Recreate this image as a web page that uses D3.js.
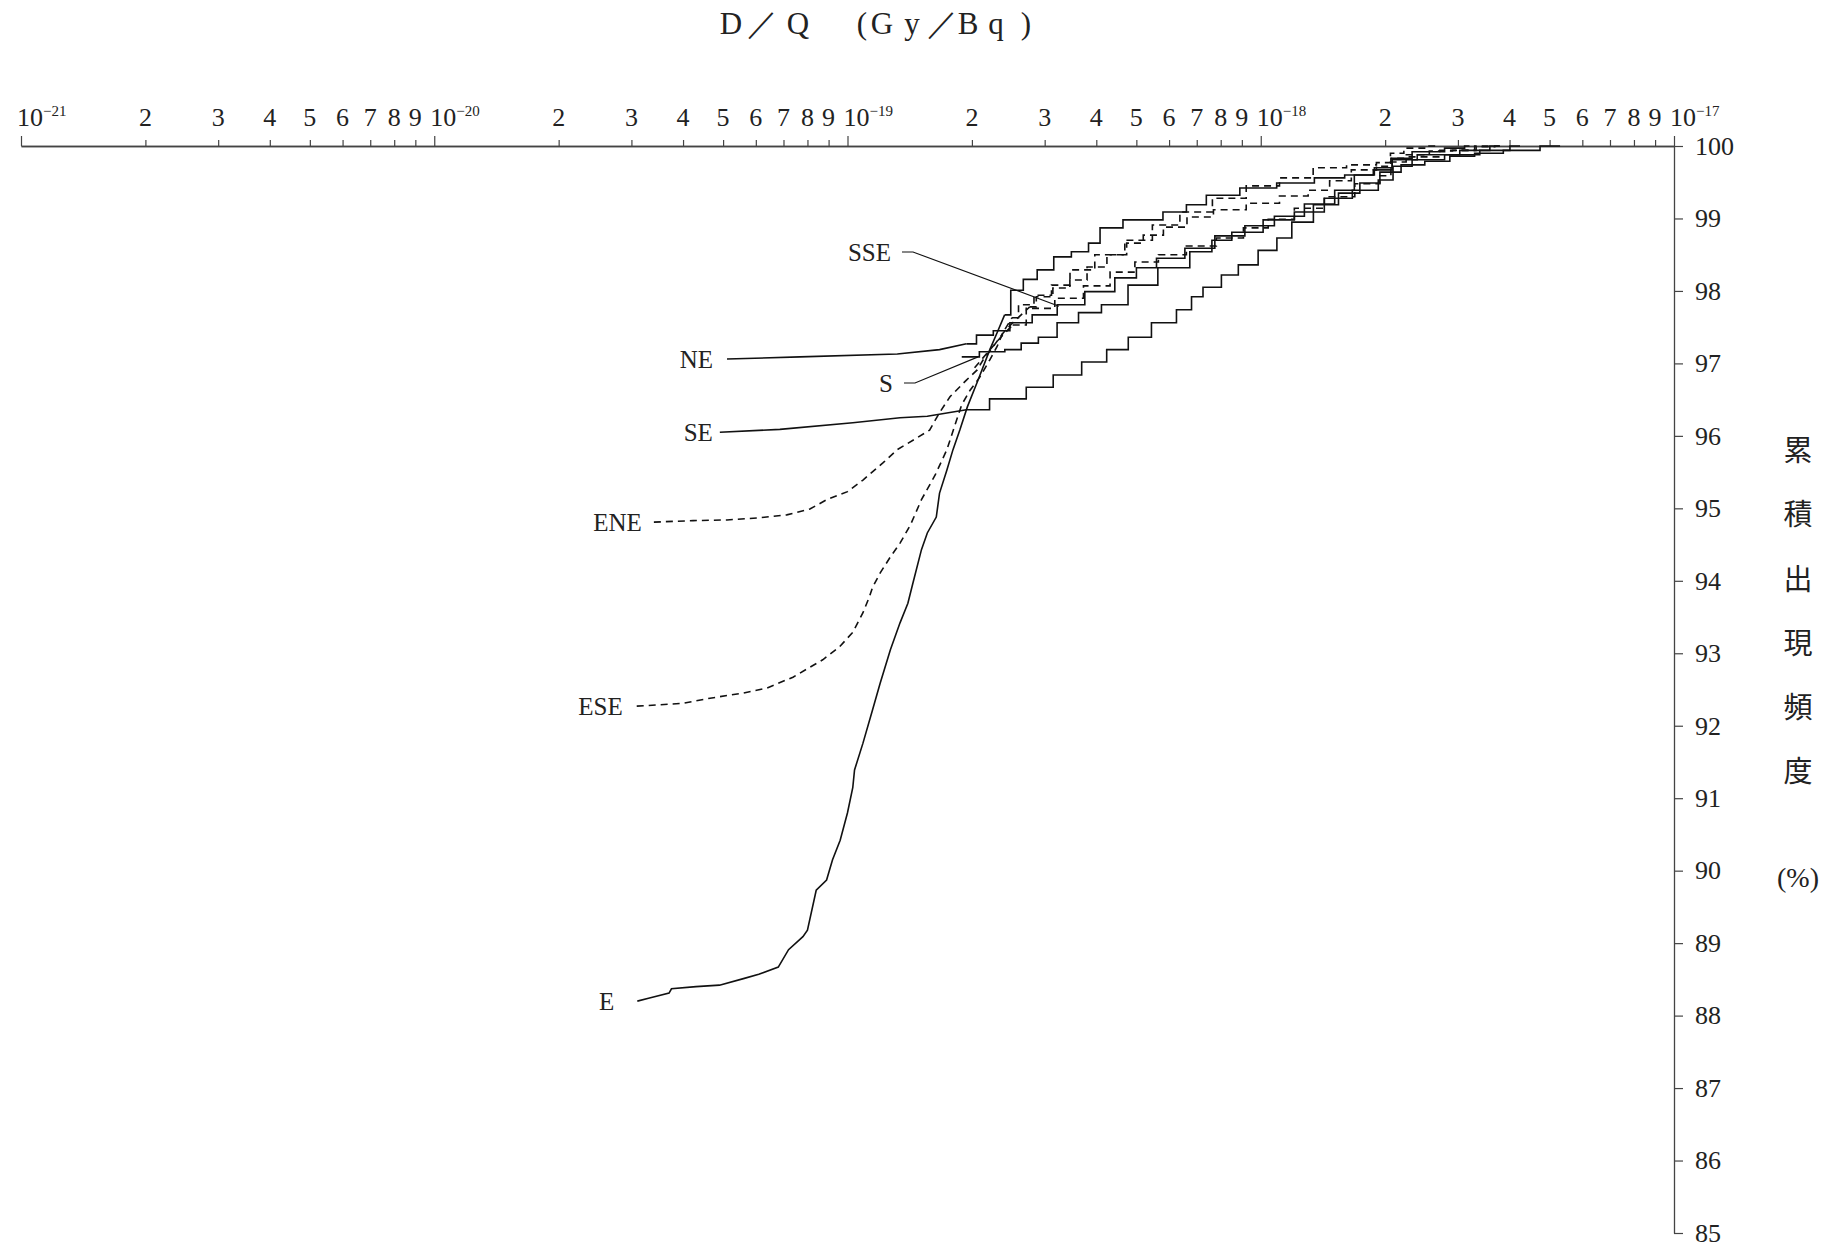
<!DOCTYPE html>
<html>
<head>
<meta charset="utf-8">
<script src="https://cdn.jsdelivr.net/npm/d3@7"></script>
<style>
body{margin:0;background:#fff;}
svg text{font-family:"Liberation Serif","DejaVu Serif",serif;fill:#222;}
</style>
</head>
<body>
<div id="chart"></div>
<script>
/* Cumulative frequency of D/Q by wind direction
   x: D/Q (Gy/Bq) on a log scale, y: cumulative frequency (%) */

// ---- data ----
var eDose = [3.1e-20,3.3e-20,3.7e-20,3.75e-20,4.3e-20,4.9e-20,5.6e-20,6.1e-20,6.8e-20,7.2e-20,7.8e-20,8.0e-20,8.4e-20,8.9e-20,9.2e-20,9.6e-20,
  1.0e-19,1.03e-19,1.04e-19,1.09e-19,1.15e-19,1.20e-19,1.27e-19,1.34e-19,1.40e-19,1.44e-19,1.51e-19,1.56e-19,1.64e-19,1.67e-19,1.74e-19,1.80e-19,
  1.87e-19,1.95e-19,2.07e-19,2.21e-19,2.30e-19,2.40e-19,2.57e-19,2.76e-19,3.00e-19,3.32e-19,3.65e-19,4.02e-19,4.15e-19,5.19e-19,6.48e-19,6.74e-19,
  8.09e-19,9.79e-19,1.22e-18,1.49e-18,1.71e-18,2.05e-18,2.11e-18,2.71e-18,3.39e-18,3.79e-18];
var ePct = [88.20,88.24,88.31,88.37,88.40,88.42,88.51,88.57,88.67,88.91,89.09,89.18,89.73,89.87,90.15,90.42,
  90.80,91.15,91.39,91.76,92.22,92.59,93.05,93.42,93.69,93.97,94.43,94.66,94.88,95.21,95.53,95.81,
  96.08,96.40,96.77,97.19,97.42,97.67,98.01,98.16,98.29,98.47,98.54,98.66,98.87,98.98,99.09,99.19,
  99.32,99.42,99.49,99.56,99.60,99.67,99.81,99.88,99.94,100];

var eseDose = [3.09e-20,3.52e-20,4.00e-20,4.65e-20,5.58e-20,6.38e-20,7.38e-20,8.71e-20,9.57e-20,1.03e-19,1.09e-19,1.13e-19,1.15e-19,1.20e-19,1.27e-19,
  1.34e-19,1.42e-19,1.51e-19,1.63e-19,1.74e-19,1.82e-19,1.89e-19,1.98e-19,2.09e-19,2.21e-19,2.30e-19,2.38e-19,2.50e-19,2.69e-19,2.97e-19,
  3.27e-19,3.65e-19,4.31e-19,5.10e-19,5.86e-19,6.93e-19,8.42e-19,1.01e-18,1.22e-18,1.47e-18,1.77e-18,2.05e-18,2.07e-18,2.38e-18,2.71e-18];
var esePct = [92.27,92.29,92.31,92.38,92.45,92.52,92.67,92.91,93.09,93.29,93.56,93.78,93.91,94.11,94.33,
  94.52,94.77,95.12,95.46,95.81,96.15,96.43,96.63,96.81,97.05,97.23,97.43,97.63,97.81,97.94,
  98.08,98.29,98.50,98.70,98.91,99.09,99.28,99.45,99.56,99.70,99.74,99.77,99.90,99.97,100];

var eneDose = [3.40e-20,4.23e-20,5.11e-20,6.14e-20,7.13e-20,8.11e-20,8.91e-20,1.0e-19,1.09e-19,1.22e-19,1.32e-19,1.47e-19,1.58e-19,1.67e-19,1.77e-19,
  1.94e-19,2.06e-19,2.13e-19,2.25e-19,2.38e-19,2.51e-19,2.76e-19,2.97e-19,3.32e-19,3.59e-19,4.02e-19,4.48e-19,5.01e-19,5.39e-19,6.27e-19,
  7.01e-19,8.42e-19,1.01e-18,1.22e-18,1.39e-18,1.55e-18,1.77e-18,2.05e-18,2.08e-18,2.38e-18,2.75e-18,3.08e-18,3.58e-18,3.79e-18];
var enePct = [94.81,94.83,94.84,94.87,94.91,94.99,95.12,95.23,95.39,95.63,95.81,95.97,96.08,96.32,96.54,
  96.77,96.91,97.05,97.23,97.42,97.56,97.78,97.92,98.04,98.15,98.33,98.50,98.66,98.77,98.88,
  99.02,99.12,99.21,99.31,99.39,99.52,99.67,99.72,99.83,99.88,99.93,99.94,99.99,100];

var seDose = [4.91e-20,6.86e-20,1.03e-19,1.34e-19,1.56e-19,1.94e-19,2.51e-19,2.92e-19,3.39e-19,4.01e-19,4.48e-19,5.10e-19,5.80e-19,6.74e-19,6.86e-19,
  7.66e-19,8.42e-19,9.25e-19,1.05e-18,1.14e-18,1.24e-18,1.45e-18,1.64e-18,1.84e-18,2.05e-18,2.33e-18,2.67e-18,3.08e-18,3.52e-18,4.24e-18,5.30e-18];
var sePct = [96.05,96.09,96.18,96.25,96.27,96.36,96.51,96.67,96.84,97.02,97.19,97.36,97.56,97.74,97.92,
  98.05,98.22,98.36,98.56,98.73,98.95,99.19,99.35,99.49,99.64,99.74,99.79,99.86,99.90,99.94,100];

var neDose = [5.11e-20,7.67e-20,1.32e-19,1.67e-19,1.94e-19,2.17e-19,2.34e-19,2.61e-19,3.00e-19,3.45e-19,4.08e-19,4.82e-19,5.19e-19,6.03e-19,7.12e-19,
  8.42e-19,9.95e-19,1.17e-18,1.39e-18,1.64e-18,1.73e-18,2.05e-18,2.11e-18,2.56e-18,3.03e-18,3.20e-18];
var nePct = [97.06,97.09,97.13,97.19,97.27,97.39,97.45,97.56,97.67,97.81,97.99,98.18,98.32,98.45,98.59,
  98.76,98.90,99.03,99.20,99.39,99.60,99.70,99.83,99.92,99.97,100];

var sDose = [1.89e-19,2.30e-19,2.51e-19,2.76e-19,3.04e-19,3.40e-19,3.86e-19,4.39e-19,5.19e-19,6.12e-19,7.41e-19,7.83e-19,9.25e-19,
  1.11e-18,1.31e-18,1.55e-18,1.79e-18,2.07e-18,2.11e-18,2.56e-18,3.03e-18,3.79e-18,4.24e-18];
var sPct = [97.09,97.16,97.19,97.28,97.36,97.56,97.70,97.81,98.08,98.32,98.54,98.70,98.81,
  98.98,99.09,99.28,99.39,99.53,99.72,99.81,99.88,99.94,100];

var sseDose = [2.03e-19,2.19e-19,2.34e-19,2.51e-19,2.92e-19,3.45e-19,4.02e-19,4.64e-19,5.30e-19,6.03e-19,7.24e-19,8.42e-19,9.79e-19,
  1.11e-18,1.31e-18,1.55e-18,1.84e-18,2.05e-18,2.08e-18,2.43e-18,3.03e-18,3.58e-18];
var ssePct = [96.94,97.16,97.35,97.53,97.76,97.90,98.07,98.26,98.40,98.50,98.62,98.73,98.87,
  98.99,99.14,99.30,99.48,99.59,99.78,99.85,99.94,100];

// axis ticks
var decades = [-21,-20,-19,-18,-17];
var mantissas = [2,3,4,5,6,7,8,9];
var pctTicks = d3.range(85,101);
var yTitle = ["累","積","出","現","頻","度"];

// ---- layout ----
var margin = {top:146, right:171, bottom:18, left:21},
  w = 1845 - margin.left - margin.right,
  h = 1251 - margin.top - margin.bottom;

var svg = d3.select("#chart").append("svg")
  .attr("width",1845).attr("height",1251);
var g = svg.append("g")
  .attr("transform",`translate(${margin.left},${margin.top})`);

var x = d3.scaleLog().domain([1e-21,1e-17]).range([0,w]);
var y = d3.scaleLinear().domain([85,100]).range([h,0]);

var majorVals = decades.map(function(k){ return Math.pow(10,k); });
var minorVals = [];
decades.slice(0,-1).forEach(function(k){
  mantissas.forEach(function(m){ minorVals.push(m*Math.pow(10,k)); });
});

// top axis (minor + major ticks)
var axStyle = function(sel){
  sel.select(".domain").attr("stroke","#444").attr("stroke-width",1.3);
  sel.selectAll(".tick line").attr("stroke","#444").attr("stroke-width",1.2);
};
g.append("g")
  .call(d3.axisTop(x).tickValues(minorVals).tickSize(6).tickSizeOuter(0).tickFormat(""))
  .call(axStyle);
g.append("g")
  .call(d3.axisTop(x).tickValues(majorVals).tickSize(10).tickSizeOuter(0).tickFormat(""))
  .call(axStyle);

// top labels
g.selectAll(".minLab").data(minorVals).enter().append("text")
  .attr("class","minLab")
  .attr("x",function(d){ return x(d); })
  .attr("y",-20)
  .attr("text-anchor","middle")
  .style("font-size","26px")
  .text(function(d){ return Math.round(d/Math.pow(10,Math.floor(Math.log10(d)+1e-9))); });
var majLab = g.selectAll(".majLab").data(decades).enter().append("text")
  .attr("class","majLab")
  .attr("x",function(d){ return x(Math.pow(10,d)) - 4; })
  .attr("y",-20)
  .style("font-size","26px");
majLab.append("tspan").text("10");
majLab.append("tspan").attr("dy",-10).style("font-size","15px")
  .text(function(d){ return "\u2212" + (-d); });

// right axis
var yAxis = g.append("g")
  .attr("transform",`translate(${w},0)`)
  .call(d3.axisRight(y).tickValues(pctTicks).tickSize(9).tickPadding(12).tickSizeOuter(0).tickFormat(d3.format("d")))
  .call(axStyle);
yAxis.selectAll(".tick text")
  .style("font-size","26px")
  .style("font-family","'Liberation Serif',serif")
  .attr("fill","#222");

// ---- series ----
// stairs: % above which the curve is drawn as little stairs
var series = [
  {name:"E",   dose:eDose,   pct:ePct,   dash:false, gap:23, stairs:97.6},
  {name:"ESE", dose:eseDose, pct:esePct, dash:true,  gap:14, stairs:97.6},
  {name:"ENE", dose:eneDose, pct:enePct, dash:true,  gap:12, stairs:97.6},
  {name:"SE",  dose:seDose,  pct:sePct,  dash:false, gap:7,  stairs:96.3},
  {name:"NE",  dose:neDose,  pct:nePct,  dash:false, gap:14, stairs:97.2},
  {name:"S",   dose:sDose,   pct:sPct,   dash:false, stairs:0},
  {name:"SSE", dose:sseDose, pct:ssePct, dash:true,  stairs:97.5}
];

var lineLow = d3.line()
  .x(function(d){ return x(d[0]); })
  .y(function(d){ return y(d[1]); });
var lineHigh = d3.line()
  .x(function(d){ return x(d[0]); })
  .y(function(d){ return y(d[1]); })
  .curve(d3.curveStep);

series.forEach(function(s){
  var pts = d3.zip(s.dose,s.pct);
  var k = Math.max(pts.findIndex(function(p){ return p[1] >= s.stairs; }),0);
  var parts = [];
  if(k > 0) parts.push(lineLow(pts.slice(0,k+1)));
  parts.push(lineHigh(pts.slice(k)));
  parts.forEach(function(d){
    g.append("path")
      .attr("d",d)
      .attr("fill","none")
      .attr("stroke","#111")
      .attr("stroke-width",1.6)
      .attr("stroke-dasharray",s.dash ? "7,5" : null);
  });
});

// labels at the start of the curves
g.selectAll(".lab").data(series.filter(function(s){ return s.gap; })).enter().append("text")
  .attr("class","lab")
  .attr("x",function(s){ return x(s.dose[0]) - s.gap; })
  .attr("y",function(s){ return y(s.pct[0]); })
  .attr("dy","0.35em")
  .attr("text-anchor","end")
  .style("font-size","25px")
  .text(function(s){ return s.name; });

// labels with leader lines (pixel positions of the text, target on curve in data units)
var leaders = [
  {name:"SSE", tx:870, ty:106, target:[3.25e-19,97.79]},
  {name:"S",   tx:872, ty:237, target:[2.07e-19,97.09]}
];
leaders.forEach(function(l){
  g.append("text").attr("x",l.tx).attr("y",l.ty).attr("dy","0.35em")
    .attr("text-anchor","end").style("font-size","25px").text(l.name);
  g.append("polyline")
    .attr("points",[[l.tx+11,l.ty],[l.tx+22,l.ty],[x(l.target[0]),y(l.target[1])]].join(" "))
    .attr("fill","none").attr("stroke","#111").attr("stroke-width",1.1);
});

// ---- titles ----
var titleChars = [["D",731],["／",762],["Q",798],["(",862],["G",882],["y",912],["／",942],["B",968],["q",996],[")",1026]];
svg.selectAll(".tt").data(titleChars).enter().append("text")
  .attr("class","tt")
  .attr("x",function(d){ return d[1]; })
  .attr("y",34)
  .attr("text-anchor","middle")
  .style("font-size","31px")
  .text(function(d){ return d[0]; });

svg.selectAll(".yt").data(yTitle).enter().append("text")
  .attr("class","yt")
  .attr("x",1798)
  .attr("y",function(d,i){ return 451 + i*64.2; })
  .attr("dy","0.35em")
  .attr("text-anchor","middle")
  .style("font-family","'Noto Sans CJK JP',sans-serif")
  .style("font-size","29px")
  .text(function(d){ return d; });
svg.append("text").attr("x",1798).attr("y",877).attr("dy","0.35em")
  .attr("text-anchor","middle").style("font-size","28px").text("(%)");
</script>
</body>
</html>
